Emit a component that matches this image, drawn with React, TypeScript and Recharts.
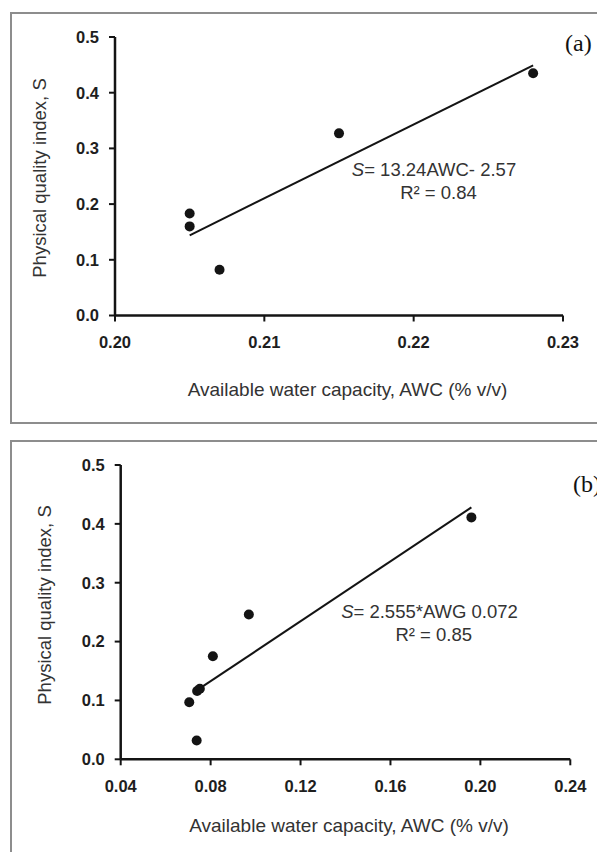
import React from 'react';
import { ScatterChart, Scatter, XAxis, YAxis, ReferenceLine } from 'recharts';

// panel (a): AWC 0.20 - 0.23
const awcA = [0.205, 0.205, 0.207, 0.215, 0.228];
const sA = [0.183, 0.16, 0.082, 0.327, 0.435];
const trendAwcA = [0.205, 0.228];
const trendSA = [0.144, 0.449];
const xTicksA = [0.2, 0.21, 0.22, 0.23];

// panel (b): AWC 0.04 - 0.24
const awcB = [0.0705, 0.074, 0.0752, 0.0738, 0.081, 0.097, 0.196];
const sB = [0.097, 0.116, 0.12, 0.032, 0.175, 0.246, 0.411];
const trendAwcB = [0.075, 0.196];
const trendSB = [0.12, 0.428];
const xTicksB = [0.04, 0.08, 0.12, 0.16, 0.2, 0.24];

const yTicks = [0, 0.1, 0.2, 0.3, 0.4, 0.5];

const FONT = '"Liberation Sans", Arial, sans-serif';
const INK = '#141414';

const toPoints = (xs: number[], ys: number[]) => xs.map((x, i) => ({ x, y: ys[i] }));

const Dot = (props: any) => <circle cx={props.cx} cy={props.cy} r={5} fill={INK} />;

const tickStyle = { fill: '#1e1e1e', fontSize: 16.5, fontWeight: 700, fontFamily: FONT };

interface PanelProps {
  width: number;
  height: number;
  margin: { top: number; right: number; left: number; bottom: number };
  yAxisWidth: number;
  xAxisHeight: number;
  xDomain: [number, number];
  xTicks: number[];
  points: { x: number; y: number }[];
  trendX: number[];
  trendY: number[];
}

function Panel({ width, height, margin, yAxisWidth, xAxisHeight, xDomain, xTicks, points, trendX, trendY }: PanelProps) {
  return (
    <ScatterChart width={width} height={height} margin={margin}>
      <XAxis
        type="number"
        dataKey="x"
        domain={xDomain}
        ticks={xTicks}
        tickFormatter={(v: number) => v.toFixed(2)}
        height={xAxisHeight}
        axisLine={{ stroke: INK, strokeWidth: 2.5 }}
        tickLine={{ stroke: INK, strokeWidth: 2 }}
        tickSize={6}
        tickMargin={15}
        tick={tickStyle}
        allowDataOverflow
        interval={0}
      />
      <YAxis
        type="number"
        dataKey="y"
        domain={[0, 0.5]}
        ticks={yTicks}
        tickFormatter={(v: number) => v.toFixed(1)}
        width={yAxisWidth}
        axisLine={{ stroke: INK, strokeWidth: 2.5 }}
        tickLine={{ stroke: INK, strokeWidth: 2 }}
        tickSize={6}
        tickMargin={10}
        tick={tickStyle}
        allowDataOverflow
        interval={0}
      />
      <ReferenceLine
        segment={[
          { x: trendX[0], y: trendY[0] },
          { x: trendX[1], y: trendY[1] },
        ]}
        stroke={INK}
        strokeWidth={2}
        ifOverflow="visible"
      />
      <Scatter data={points} shape={Dot} isAnimationActive={false} />
    </ScatterChart>
  );
}

const Txt = ({ x, y, size = 18.5, rotate = false, children, color = '#333' }: any) => (
  <div
    style={{
      position: 'absolute',
      left: x,
      top: y,
      transform: `translate(-50%, -50%)${rotate ? ' rotate(-90deg)' : ''}`,
      whiteSpace: 'nowrap',
      lineHeight: 1,
      fontSize: size,
      fontFamily: FONT,
      color,
    }}
  >
    {children}
  </div>
);

const Tag = ({ x, y, children }: any) => (
  <div
    style={{
      position: 'absolute',
      left: x,
      top: y,
      transform: 'translateY(-50%)',
      whiteSpace: 'nowrap',
      lineHeight: 1,
      fontSize: 24,
      fontFamily: '"Liberation Serif", "Times New Roman", serif',
      color: '#111',
    }}
  >
    {children}
  </div>
);

export default function App() {
  const frame = {
    position: 'absolute' as const,
    boxSizing: 'border-box' as const,
    borderTop: '2px solid #8d8d8d',
    borderLeft: '2px solid #8d8d8d',
  };

  return (
    <div style={{ position: 'absolute', left: 0, top: 0, width: 597, height: 852, overflow: 'hidden', background: '#fff' }}>
      <div style={{ ...frame, left: 10, top: 12, width: 587, height: 412, borderBottom: '2px solid #8d8d8d' }} />
      <div style={{ ...frame, left: 10, top: 440, width: 587, height: 412 }} />

      <div style={{ position: 'absolute', left: 0, top: 0 }}>
        <Panel
          width={597}
          height={424}
          margin={{ top: 37, right: 34, left: 0, bottom: 0 }}
          yAxisWidth={115}
          xAxisHeight={108.5}
          xDomain={[0.2, 0.23]}
          xTicks={xTicksA}
          points={toPoints(awcA, sA)}
          trendX={trendAwcA}
          trendY={trendSA}
        />
      </div>

      <div style={{ position: 'absolute', left: 0, top: 432 }}>
        <Panel
          width={597}
          height={420}
          margin={{ top: 33, right: 26.7, left: 0, bottom: 0 }}
          yAxisWidth={120.7}
          xAxisHeight={92.7}
          xDomain={[0.04, 0.24]}
          xTicks={xTicksB}
          points={toPoints(awcB, sB)}
          trendX={trendAwcB}
          trendY={trendSB}
        />
      </div>

      <Txt x={40} y={177.5} rotate>Physical quality index, S</Txt>
      <Txt x={347.5} y={389} size={19}>Available water capacity, AWC (% v/v)</Txt>
      <Txt x={434} y={170}><i>S</i>= 13.24AWC- 2.57</Txt>
      <Txt x={438.5} y={192.6}>R² = 0.84</Txt>
      <Tag x={565} y={43}>(a)</Tag>

      <Txt x={45} y={605} rotate>Physical quality index, S</Txt>
      <Txt x={349} y={825} size={19}>Available water capacity, AWC (% v/v)</Txt>
      <Txt x={429.5} y={611.7}><i>S</i>= 2.555*AWG 0.072</Txt>
      <Txt x={433.7} y={635}>R² = 0.85</Txt>
      <Tag x={573} y={484}>(b)</Tag>
    </div>
  );
}
